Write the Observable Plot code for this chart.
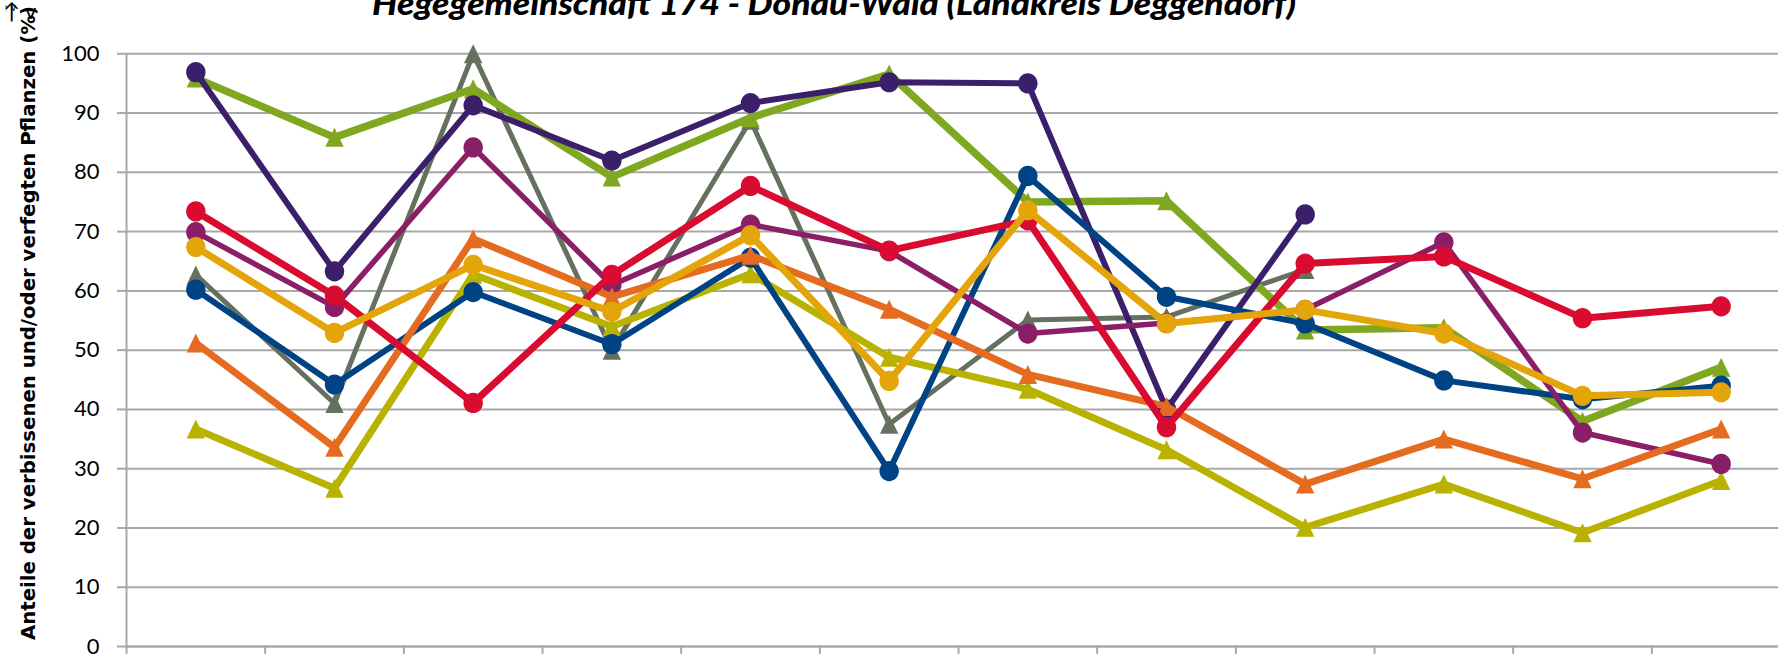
<!DOCTYPE html>
<html>
<head>
<meta charset="utf-8">
<script src="https://cdn.jsdelivr.net/npm/d3@7"></script>
<script src="https://cdn.jsdelivr.net/npm/@observablehq/plot@0.6"></script>
<style>
  html, body { margin: 0; padding: 0; background: #fff; overflow: hidden; }
  #chart svg { display: block; }
</style>
</head>
<body>
<div id="chart"></div>
<script>
// ---- data ----
const title = "Hegegemeinschaft 174 - Donau-Wald (Landkreis Deggendorf)";
const yLabel = "Anteile der verbissenen und/oder verfegten Pflanzen (%)";
const categories = ["1","2","3","4","5","6","7","8","9","10","11","12"];
const yTicks = [0, 10, 20, 30, 40, 50, 60, 70, 80, 90, 100];

const grayTri    = [62.7, 41.0, 100, 50.0, 88.8, 37.5, 55.1, 55.6, 63.6, null, null, null];
const yellowTri  = [36.7, 26.7, 62.8, 54.0, 62.9, 48.8, 43.4, 33.2, 20.1, 27.4, 19.2, 28.0];
const greenTri   = [95.9, 85.9, 94.1, 79.2, 89.2, 96.6, 75.0, 75.2, 53.4, 53.8, 38.0, 47.1];
const purpleDot  = [96.9, 63.3, 91.3, 82.0, 91.7, 95.2, 95.0, 40.0, 72.9, null, null, null];
const blueDot    = [60.2, 44.2, 59.8, 51.0, 65.6, 29.6, 79.4, 59.0, 54.5, 44.9, 41.7, 44.0];
const magentaDot = [69.9, 57.3, 84.2, 61.0, 71.2, 66.7, 52.8, 54.6, 56.8, 68.2, 36.1, 30.8];
const orangeTri  = [51.2, 33.6, 68.8, 59.0, 66.0, 56.9, 45.9, 40.5, 27.4, 35.0, 28.3, 36.7];
const redDot     = [73.4, 59.2, 41.1, 62.7, 77.7, 66.8, 71.9, 37.0, 64.6, 65.8, 55.4, 57.4];
const goldDot    = [67.4, 52.9, 64.4, 56.5, 69.4, 44.8, 73.6, 54.5, 56.8, 52.8, 42.3, 42.9];

// drawing order (bottom to top)
const seriesList = [
  {name: "grau",    values: grayTri,    color: "#65715f", marker: "tri", width: 5},
  {name: "gelb",    values: yellowTri,  color: "#b9b200", marker: "tri", width: 7},
  {name: "grün",    values: greenTri,   color: "#7fa820", marker: "tri", width: 7.5},
  {name: "violett", values: purpleDot,  color: "#3c1f6b", marker: "dot", width: 6},
  {name: "blau",    values: blueDot,    color: "#004385", marker: "dot", width: 6},
  {name: "purpur",  values: magentaDot, color: "#8b1f67", marker: "dot", width: 5.5},
  {name: "orange",  values: orangeTri,  color: "#e46b1f", marker: "tri", width: 7},
  {name: "rot",     values: redDot,     color: "#d90b31", marker: "dot", width: 7},
  {name: "gold",    values: goldDot,    color: "#e3a50a", marker: "dot", width: 7}
];

// ---- custom marker symbols ----
const triangleSymbol = {
  draw(ctx) {
    const w = 9.2, h = 19;
    ctx.moveTo(0, -h / 2);
    ctx.lineTo(w, h / 2);
    ctx.lineTo(-w, h / 2);
    ctx.closePath();
  }
};
const ellipseSymbol = {
  draw(ctx) {
    const rx = 9.7, ry = 10.1, k = 0.5523;
    ctx.moveTo(rx, 0);
    ctx.bezierCurveTo(rx, ry * k, rx * k, ry, 0, ry);
    ctx.bezierCurveTo(-rx * k, ry, -rx, ry * k, -rx, 0);
    ctx.bezierCurveTo(-rx, -ry * k, -rx * k, -ry, 0, -ry);
    ctx.bezierCurveTo(rx * k, -ry, rx, -ry * k, rx, 0);
    ctx.closePath();
  }
};

const gridColor = "#a8a8a8";
const marks = [
  Plot.gridY(yTicks, {stroke: gridColor, strokeOpacity: 1, strokeWidth: 2}),
  Plot.axisY({ticks: yTicks, text: null, tickSize: 9, stroke: gridColor, strokeWidth: 2}),
  Plot.axisY({ticks: yTicks, tickSize: 0, tickPadding: 27, fontSize: 22,
              fontFamily: "Lato, 'Liberation Sans', sans-serif", fill: "#000"}),
  Plot.axisX({ticks: d3.range(0, categories.length + 1), text: null, tickSize: 10,
              stroke: gridColor, strokeWidth: 2}),
  Plot.ruleX([0], {stroke: gridColor, strokeWidth: 2}),
  Plot.ruleY([0], {stroke: gridColor, strokeWidth: 2})
];

for (const s of seriesList) {
  const rows = s.values.map((v, i) => ({cat: categories[i], i, v}));
  marks.push(Plot.line(rows, {
    x: d => d.i + 0.5, y: "v", stroke: s.color, strokeWidth: s.width,
    strokeLinejoin: "round", strokeLinecap: "round"
  }));
  marks.push(Plot.dot(rows.filter(d => d.v != null), {
    x: d => d.i + 0.5, y: "v", fill: s.color, stroke: "none",
    symbol: s.marker === "tri" ? triangleSymbol : ellipseSymbol, r: 10
  }));
}

const svg = Plot.plot({
  width: 1778,
  height: 654,
  marginLeft: 126,
  marginRight: 0,
  marginTop: 53,
  marginBottom: 8,
  style: {background: "#fff", overflow: "visible"},
  x: {domain: [0, categories.length], range: [126, 1790], axis: null},
  y: {domain: [0, 100], range: [646, 53.3], axis: null},
  marks
});

const sel = d3.select(svg);
sel.append("text")
  .attr("x", 834).attr("y", 15)
  .attr("text-anchor", "middle")
  .attr("textLength", 924)
  .attr("lengthAdjust", "spacingAndGlyphs")
  .style("font-family", "Lato, 'Open Sans', sans-serif")
  .style("font-weight", "900")
  .style("font-style", "italic")
  .style("font-size", "32px")
  .attr("fill", "#000")
  .text(title);

sel.append("text")
  .attr("transform", "translate(35,640) rotate(-90)")
  .attr("text-anchor", "start")
  .attr("textLength", 634)
  .attr("lengthAdjust", "spacingAndGlyphs")
  .style("font-family", "'DejaVu Sans', Verdana, sans-serif")
  .style("font-weight", "bold")
  .style("font-size", "20px")
  .attr("fill", "#000")
  .text(yLabel);

document.getElementById("chart").appendChild(svg);
</script>
</body>
</html>
